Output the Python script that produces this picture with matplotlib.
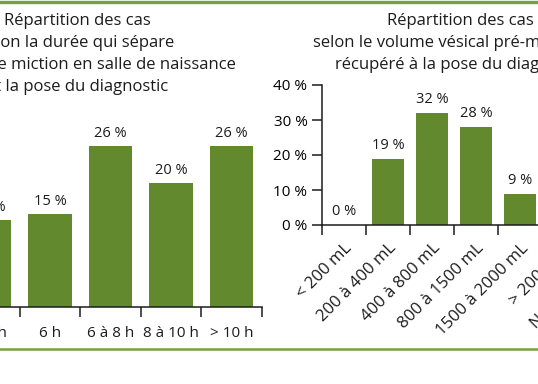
import matplotlib.pyplot as plt

W, H, DPI = 538, 384, 100

# left chart: time between first void and diagnosis
duree_labels = ["< 6 h", "6 h", "6 à 8 h", "8 à 10 h", "> 10 h"]
duree_values = [14, 15, 26, 20, 26]

# right chart: bladder volume at catheterisation
volume_labels = ["< 200 mL", "200 à 400 mL", "400 à 800 mL", "800 à 1500 mL",
                 "1500 à 2000 mL", "> 2000 mL", "Non renseigné"]
volume_values = [0, 19, 32, 28, 9]
volume_yticks = [0, 10, 20, 30, 40]

title_left = ["Répartition des cas", "selon la durée qui sépare",
              "la première miction en salle de naissance", "et la pose du diagnostic"]
title_right = ["Répartition des cas", "selon le volume vésical pré-mictionnel",
               "récupéré à la pose du diagnostic"]

GREEN = "#62892e"
LINE_GREEN = "#76a040"
INK = "#1c1c1c"
FONT = "Open Sans"
FS_TITLE = 12
FS_TICK = 11
FS_ROT = 12
FS_BAR = 10.5

plt.rcParams.update({"font.family": FONT, "font.size": FS_TICK, "text.color": INK})


def box(x0, y0, x1, y1):
    """pixel box (top-left origin) -> figure fraction rect"""
    return [x0 / W, 1 - y1 / H, (x1 - x0) / W, (y1 - y0) / H]


def pct(v):
    return f"{v} %"


fig = plt.figure(figsize=(W / DPI, H / DPI), dpi=DPI)

# green rules top and bottom
fig.add_artist(plt.Line2D([0, 1], [1 - 1.5 / H] * 2, color=LINE_GREEN, lw=2.4))
fig.add_artist(plt.Line2D([0, 1], [1 - 349 / H] * 2, color=LINE_GREEN, lw=1.8))

# ---- left chart ----
step = 60.5
c0 = -10.5  # centre of first category, px
ax1 = fig.add_axes(box(c0 - 0.5 * step, 307 - 28 * 6.19, c0 + 4.5 * step, 307))
x1 = list(range(len(duree_values)))
ax1.bar(x1, duree_values, width=0.72, color=GREEN)
for x, v in zip(x1, duree_values):
    ax1.annotate(pct(v), (x, v), xytext=(0, 4), textcoords="offset points",
                 ha="center", va="bottom", fontsize=FS_BAR)
ax1.set_xlim(-0.5, len(duree_labels) - 0.5)
ax1.set_ylim(0, 28)
for s in ("left", "right", "top"):
    ax1.spines[s].set_visible(False)
ax1.spines["bottom"].set_linewidth(1.1)
ax1.spines["bottom"].set_color(INK)
ax1.set_yticks([])
ax1.set_xticks(x1, duree_labels)
ax1.set_xticks([i + 0.5 for i in x1], minor=True)
ax1.tick_params(axis="x", which="major", length=0, pad=14, labelsize=FS_TICK, colors=INK)
ax1.tick_params(axis="x", which="minor", length=7.5, width=1.1, direction="out", color=INK)
ax1.patch.set_visible(False)

for i, line in enumerate(title_left):
    fig.text(77 / W, 1 - (25 + 22 * i) / H, line, ha="center", va="baseline",
             fontsize=FS_TITLE)

# ---- right chart ----
vstep = 44
ax2 = fig.add_axes(box(322, 85, 322 + len(volume_labels) * vstep, 225))
x2 = list(range(len(volume_values)))
ax2.bar(x2, volume_values, width=0.72, color=GREEN)
for x, v in zip(x2, volume_values):
    ax2.annotate(pct(v), (x, v), xytext=(0, 4), textcoords="offset points",
                 ha="center", va="bottom", fontsize=FS_BAR)
ax2.set_xlim(-0.5, len(volume_labels) - 0.5)
ax2.set_ylim(0, 40)
for s in ("right", "top"):
    ax2.spines[s].set_visible(False)
for s in ("left", "bottom"):
    ax2.spines[s].set_linewidth(1.1)
    ax2.spines[s].set_color(INK)
ax2.set_yticks(volume_yticks, [pct(v) for v in volume_yticks])
ax2.tick_params(axis="y", length=7.5, width=1.1, color=INK, labelsize=FS_TICK, pad=3)
ax2.set_xticks(range(len(volume_labels)))
ax2.set_xticklabels(volume_labels, rotation=45, ha="right", va="top",
                    rotation_mode="anchor")
ax2.set_xticks([i - 0.5 for i in range(len(volume_labels))], minor=True)
ax2.tick_params(axis="x", which="major", length=0, pad=11, labelsize=FS_ROT, colors=INK)
ax2.tick_params(axis="x", which="minor", length=7.5, width=1.1, direction="out", color=INK)
ax2.patch.set_visible(False)

for i, line in enumerate(title_right):
    fig.text(460 / W, 1 - (25 + 22 * i) / H, line, ha="center", va="baseline",
             fontsize=FS_TITLE)

fig.savefig("out.png", dpi=DPI)
